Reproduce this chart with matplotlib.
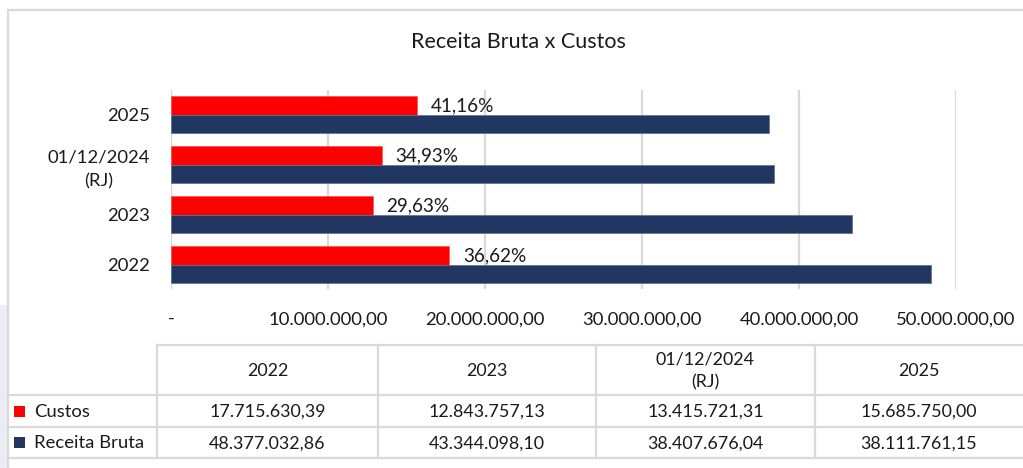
import matplotlib.pyplot as plt
import numpy as np

plt.rcParams['font.family'] = ['Lato', 'DejaVu Sans']

# dados
categorias = ['2022', '2023', '01/12/2024\n(RJ)', '2025']
custos = [17715630.39, 12843757.13, 13415721.31, 15685750.00]
receita = [48377032.86, 43344098.10, 38407676.04, 38111761.15]
ticks = [0, 10e6, 20e6, 30e6, 40e6, 50e6]

cor_custos = '#ff0000'
cor_receita = '#213762'
cor_linha = '#d9d9d9'
cor_texto = '#1a1a1a'


def fmt_br(v):
    s = f'{v:,.2f}'
    return s.replace(',', '#').replace('.', ',').replace('#', '.')


W, H = 1023, 468
fig = plt.figure(figsize=(W / 100, H / 100), dpi=100)

# camada de fundo em pixels (borda, tabela)
bg = fig.add_axes([0, 0, 1, 1])
bg.set_xlim(0, W)
bg.set_ylim(H, 0)
bg.axis('off')
bg.add_patch(plt.Rectangle((0, 305), 7, 163, color='#ececf4', lw=0))
bg.plot([8, W], [10, 10], color=cor_linha, lw=1.6)
bg.plot([8, 8], [10, H], color=cor_linha, lw=1.6)

# grafico
ax = fig.add_axes([171 / W, 1 - 289 / H, (956 - 171) / W, (289 - 90) / H])
y = np.arange(len(categorias))
h = 0.37
ax.barh(y + h / 2, custos, height=h, color=cor_custos, edgecolor='#ff5050', lw=0.5, zorder=3)
ax.barh(y - h / 2, receita, height=h, color=cor_receita, edgecolor='#5b6f95', lw=0.5, zorder=3)
for i in range(len(categorias)):
    pct = custos[i] / receita[i] * 100
    ax.annotate(f'{pct:.2f}%'.replace('.', ','), (custos[i], y[i] + h / 2 - 0.02),
                xytext=(10, 0), textcoords='offset points', va='center', ha='left',
                fontsize=13.6, color=cor_texto)
ax.set_xlim(0, 50e6)
ax.set_ylim(-0.49, 3.49)
ax.set_xticks(ticks)
ax.set_xticklabels(['-'] + [fmt_br(t) for t in ticks[1:]], fontsize=13.3, color=cor_texto)
ax.set_yticks(y)
ax.set_yticklabels(categorias, fontsize=13.3, color=cor_texto, multialignment='center',
                   linespacing=1.55)
ax.tick_params(axis='both', length=0)
ax.tick_params(axis='x', pad=16)
ax.tick_params(axis='y', pad=15)
ax.grid(axis='x', color=cor_linha, lw=1.6, zorder=0)
for s in ax.spines.values():
    s.set_visible(False)
ax.axvline(0, color=cor_linha, lw=1.6, zorder=1)
fig.text(518 / W, 1 - 42 / H, 'Receita Bruta x Custos', ha='center', va='center',
         fontsize=15.5, color=cor_texto)

# tabela de dados
col_x = [157, 378, 596, 815, W]
row_y = [345, 395, 427, 458]
bg.plot([157, W], [row_y[0]] * 2, color=cor_linha, lw=1.6)
for yy in row_y[1:]:
    bg.plot([8, W], [yy, yy], color=cor_linha, lw=1.6)
for xx in col_x[:-1]:
    bg.plot([xx, xx], [row_y[0], row_y[-1]], color=cor_linha, lw=1.6)

for j, cat in enumerate(categorias):
    cx = (col_x[j] + col_x[j + 1]) / 2
    bg.text(cx, (row_y[0] + row_y[1]) / 2 + 1, cat, ha='center', va='center',
            fontsize=12.9, color=cor_texto, multialignment='center', linespacing=1.5)
    bg.text(cx, (row_y[1] + row_y[2]) / 2 + 1, fmt_br(custos[j]), ha='center', va='center',
            fontsize=12.9, color=cor_texto)
    bg.text(cx, (row_y[2] + row_y[3]) / 2 + 1, fmt_br(receita[j]), ha='center', va='center',
            fontsize=12.9, color=cor_texto)

for k, (nome, cor) in enumerate([('Custos', cor_custos), ('Receita Bruta', cor_receita)]):
    yc = (row_y[k + 1] + row_y[k + 2]) / 2
    bg.add_patch(plt.Rectangle((14, yc - 5.5), 11, 11, color=cor, lw=0))
    bg.text(34, yc + 1, nome, ha='left', va='center', fontsize=13.3, color=cor_texto)

fig.savefig('out.png', dpi=100)
